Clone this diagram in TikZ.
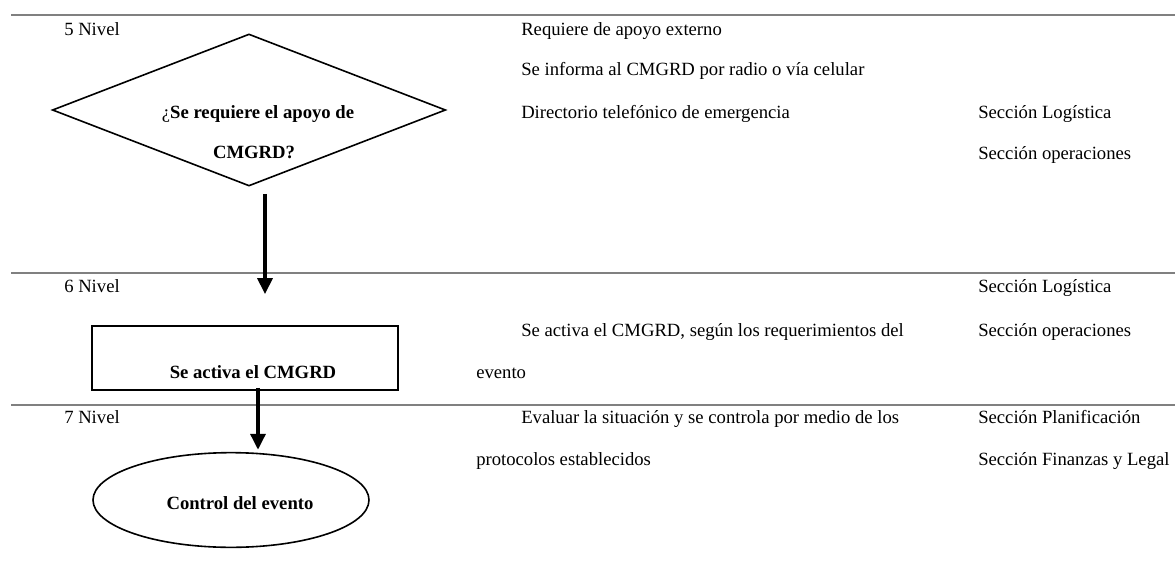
\documentclass[tikz,border=0pt]{standalone}
\usepackage{fontspec}
\setmainfont{Liberation Serif}
\usetikzlibrary{arrows.meta, calc, shapes.geometric}

\tikzset{
  rule/.style={gray, line width=1.5pt},
  txt/.style={anchor=base west, inner sep=0pt, font=\fontsize{14}{16}\selectfont},
  btxt/.style={anchor=base, inner sep=0pt, font=\fontsize{14}{16}\selectfont\bfseries},
  decision/.style={diamond, draw, line width=1.2pt, inner sep=0pt, minimum width=295pt, minimum height=114pt},
  process/.style={rectangle, draw, line width=1.2pt, minimum width=229.5pt, minimum height=48pt},
  terminal/.style={ellipse, draw, line width=1.2pt, minimum width=207pt, minimum height=71pt},
  flow/.style={line width=3pt, -{Triangle[length=12pt, width=11pt]}}
}

\begin{document}
\begin{tikzpicture}[x=0.75pt, y=-0.75pt]
\useasboundingbox (0,0) rectangle (1175,571);
\foreach \y in {15,273,405} {
  \draw[rule] (11,\y) -- (1175,\y);
}
\foreach \n/\y in {5/35,6/292,7/423} {
  \node[txt] (nivel\n) at (64,\y) {\n\ Nivel};
}

% shapes
\node[decision] (apoyo) at (249,110) {};
\node[btxt] (apoyoa) at (258,118) {{\mdseries ¿}Se requiere el apoyo de};
\node[btxt] (apoyob) at (254,158) {CMGRD?};
\node[process] (activa) at (245,358) {};
\node[btxt] (activat) at (253,378) {Se activa el CMGRD};
\node[terminal] (control) at (231,500) {};
\node[btxt] (controlt) at (240,509) {Control del evento};

\draw[flow] ($(apoyo.south)+(16,7)$) -- ($(activa.north)+(20,-31)$);
\draw[flow] ($(activa.south)+(13,-3)$) -- ($(control.north)+(27,-2)$);

% descripcion
\node[txt] (req) at (521,35) {Requiere de apoyo externo};
\node[txt] (inf) at (521,75) {Se informa al CMGRD por radio o vía celular};
\node[txt] (dir) at (521,118) {Directorio telefónico de emergencia};
\node[txt] (act) at (521,336) {Se activa el CMGRD, según los requerimientos del};
\node[txt] (acta) at (476,378) {evento};
\node[txt] (eva) at (521,423) {Evaluar la situación y se controla por medio de los};
\node[txt] (evaa) at (476,465) {protocolos establecidos};

% responsables
\node[txt] (logA) at (978,118) {Sección Logística};
\node[txt] (opeA) at (978,159) {Sección operaciones};
\node[txt] (logB) at (978,292) {Sección Logística};
\node[txt] (opeB) at (978,336) {Sección operaciones};
\node[txt] (pla) at (978,423) {Sección Planificación};
\node[txt] (fin) at (978,465) {Sección Finanzas y Legal};
\end{tikzpicture}
\end{document}
